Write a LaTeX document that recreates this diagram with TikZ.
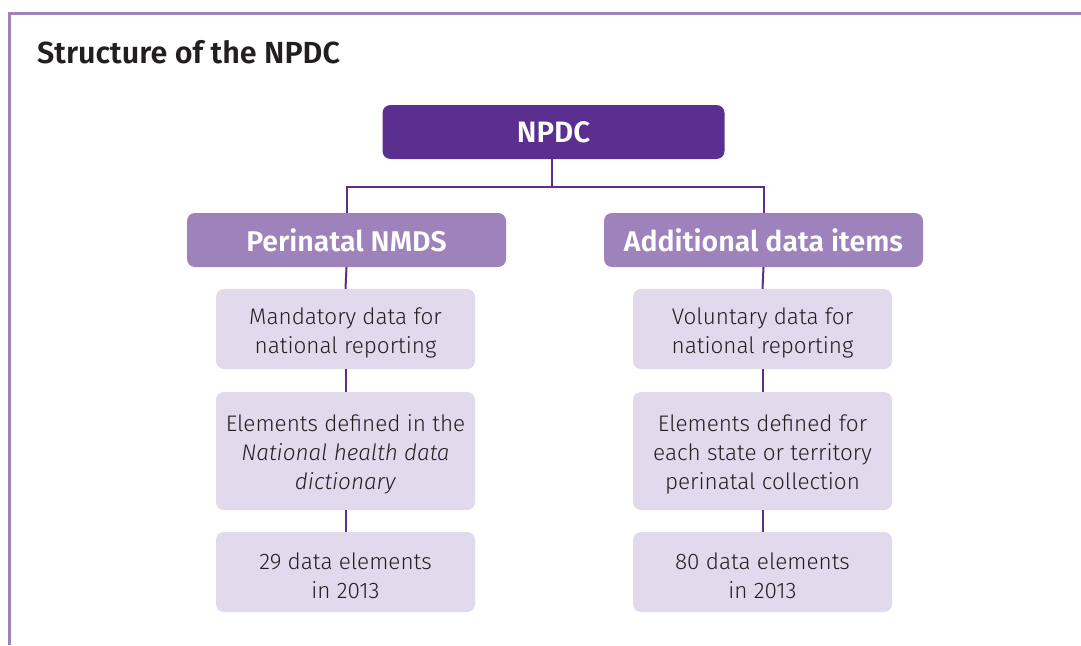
\documentclass[tikz,border=0pt]{standalone}
\usepackage{fontspec}
\setmainfont{Fira Sans}[UprightFont=* Light, ItalicFont=* Light Italic, BoldFont=* SemiBold]
\newfontfamily\titlefont{Fira Sans}[UprightFont=* SemiBold]
\definecolor{darkp}{HTML}{5B2F8F}
\definecolor{midp}{HTML}{9E82BC}
\definecolor{lightp}{HTML}{E0DAEC}
\definecolor{txt}{HTML}{231F20}
\newcommand{\fstrut}{\rule{0pt}{24pt}}
\begin{document}
\begin{tikzpicture}[x=1pt,y=-1pt,
  topbox/.style={fill=darkp, draw=none, rounded corners=8pt, minimum width=342pt, minimum height=54pt, text=white, font=\titlefont\fontsize{29.5}{34}\selectfont, inner sep=0pt},
  headbox/.style={fill=midp, draw=none, rounded corners=8pt, minimum width=319pt, minimum height=54pt, text=white, font=\titlefont\fontsize{28.5}{34}\selectfont, inner sep=0pt},
  infobox/.style={fill=lightp, draw=none, rounded corners=8pt, minimum width=259pt, text=txt, align=center, font=\fontsize{22.5}{29}\selectfont, inner sep=0pt},
  conn/.style={draw=darkp, line width=2pt}
]
\useasboundingbox (0,0) rectangle (1081,645);
\fill[white] (0,0) rectangle (1081,645);
\draw[midp, line width=3pt] (9,645) -- (9,13) -- (1081,13);
\node[anchor=base west, text=txt, font=\titlefont\fontsize{30.5}{34}\selectfont, inner sep=0pt] (title) at (37,63) {Structure of the NPDC};

\node[topbox] (npdc) at (553.5,132) {NPDC};
\node[headbox] (p1) at (346.5,240) {Perinatal NMDS};
\node[headbox] (a1) at (763.5,240) {Additional data items};

\node[infobox, minimum height=80pt] (p2) at (345.5,329) {\fstrut Mandatory data for\\national reporting};
\node[infobox, minimum height=118pt] (p3) at (345.5,451) {\fstrut Elements defined in the\\\textit{National health data}\\\textit{dictionary}};
\node[infobox, minimum height=80pt] (p4) at (345.5,572) {\fstrut 29 data elements\\in 2013};

\node[infobox, minimum height=80pt] (a2) at (762.5,329) {\fstrut Voluntary data for\\national reporting};
\node[infobox, minimum height=118pt] (a3) at (762.5,451) {\fstrut Elements defined for\\each state or territory\\perinatal collection};
\node[infobox, minimum height=80pt] (a4) at (762.5,572) {\fstrut 80 data elements\\in 2013};

\coordinate (j) at (551.5,187);
\draw[conn] (npdc.south -| j) -- (j);
\draw[conn] (p1.north) |- (j) -| (a1.north);
\draw[conn] (p1.south) -- (p2.north);
\draw[conn] (p2.south) -- (p3.north);
\draw[conn] (p3.south) -- (p4.north);
\draw[conn] (a1.south) -- (a2.north);
\draw[conn] (a2.south) -- (a3.north);
\draw[conn] (a3.south) -- (a4.north);
\end{tikzpicture}
\end{document}
